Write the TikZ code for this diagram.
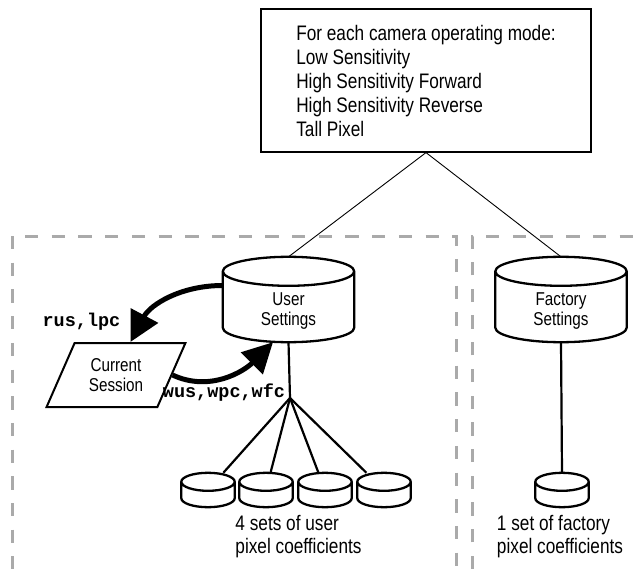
\documentclass[tikz,border=0pt]{standalone}
\usepackage{fontspec}
\setmainfont[FakeStretch=0.82]{Liberation Sans}
\setmonofont{Liberation Mono}
\usetikzlibrary{arrows.meta,shapes.geometric,calc}
\definecolor{FrameGray}{RGB}{170,170,170}
\tikzset{
  banco/.style={minimum width=131pt, minimum height=85pt, inner sep=0pt},
  bancop/.style={minimum width=53pt, minimum height=34pt, inner sep=0pt},
  contorno/.style={line width=2.3pt, line join=round},
  textobanco/.style={align=center, inner sep=0pt, font=\fontsize{18.6}{20}\selectfont},
  sessao/.style={trapezium, trapezium left angle=61, trapezium right angle=119,
                trapezium stretches=true, draw, line width=2pt, minimum width=140pt,
                minimum height=64pt, inner sep=0pt, align=center,
                font=\fontsize{18.6}{20}\selectfont},
  quadromodo/.style={draw, line width=1.2pt, minimum width=330pt, minimum height=143pt,
                inner sep=0pt, align=left, font=\fontsize{21}{24}\selectfont},
  quadro/.style={draw=FrameGray, line width=3pt, dash pattern=on 13.3pt off 13.4pt},
  fio/.style={line width=0.9pt},
  haste/.style={line width=2.2pt},
  setagrossa/.style={-{Triangle[length=30pt,width=30pt]}, line width=5pt},
  rotulo/.style={align=left, font=\fontsize{21}{23}\selectfont},
  codigo/.style={font=\ttfamily\bfseries\fontsize{18.5}{20}\selectfont},
}
% cilindro desenhado em volta de um no retangular: no, raio vertical da elipse
\newcommand{\cilindro}[2]{%
  \draw[contorno] let \p1=(#1.north west), \p2=(#1.south east), \n1={(\x2-\x1)/2} in
    (\x1,\y1-#2pt) arc[start angle=180, end angle=360, x radius=\n1, y radius=#2pt]
    (\x1,\y1-#2pt) arc[start angle=180, end angle=0, x radius=\n1, y radius=#2pt]
    -- (\x2,\y2+#2pt) arc[start angle=0, end angle=-180, x radius=\n1, y radius=#2pt] -- cycle;
}
\begin{document}
\begin{tikzpicture}[x=1pt,y=1pt]
  \useasboundingbox (0,0) rectangle (644,-569);

  % areas tracejadas
  \draw[quadro] (12,-236) -- (12,-569);
  \draw[quadro] (25,-236) -- (456,-236) -- (456,-569);
  \draw[quadro] (472,-569) -- (472,-236) -- (644,-236);

  % modos de operacao
  \node[quadromodo] (modos) at (426,-80.5)
    {For each camera operating mode:\\Low Sensitivity\\High Sensitivity Forward\\High Sensitivity Reverse\\Tall Pixel};

  % bancos de ajustes
  \node[banco] (usuario) at (288.5,-299.5) {};
  \cilindro{usuario}{14.5}
  \node[textobanco] (usuariotexto) at ([yshift=-12pt]usuario.center) {User\\Settings};
  \node[banco] (fabrica) at (561,-299.5) {};
  \cilindro{fabrica}{14.5}
  \node[textobanco] (fabricatexto) at ([yshift=-12pt]fabrica.center) {Factory\\Settings};
  \draw[fio] (modos.south) -- (usuario.north);
  \draw[fio] (modos.south) -- (fabrica.north);

  % sessao corrente
  \node[sessao] (sessao) at (116,-375) {Current\\Session};
  \draw[setagrossa] ([yshift=14pt]usuario.west) to[out=180, in=62] (sessao.top side);
  \draw[setagrossa] (sessao.right side) to[out=-25, in=225] ([xshift=-15.5pt]usuario.south);
  \node[codigo] (leitura) at (81.5,-322) {rus,lpc};
  \node[codigo] (escrita) at (224,-393) {wus,wpc,wfc};

  % coeficientes de pixel
  \coordinate (leque) at (290,-398);
  \draw[haste] (usuario.south) -- (leque);
  \foreach \i/\x in {1/208,2/266,3/325,4/384}{
    \node[bancop] (coef\i) at (\x,-490) {};
    \cilindro{coef\i}{9}
    \draw[haste] (leque) -- (coef\i);
  }
  \node[bancop] (coeffab) at (562,-490) {};
  \cilindro{coeffab}{9}
  \draw[haste] (fabrica.south) -- (coeffab.north);

  \node[rotulo] (legusuario) at (298.5,-537) {4 sets of user\\pixel coefficients};
  \node[rotulo] (legfabrica) at (560,-537) {1 set of factory\\pixel coefficients};
\end{tikzpicture}
\end{document}
